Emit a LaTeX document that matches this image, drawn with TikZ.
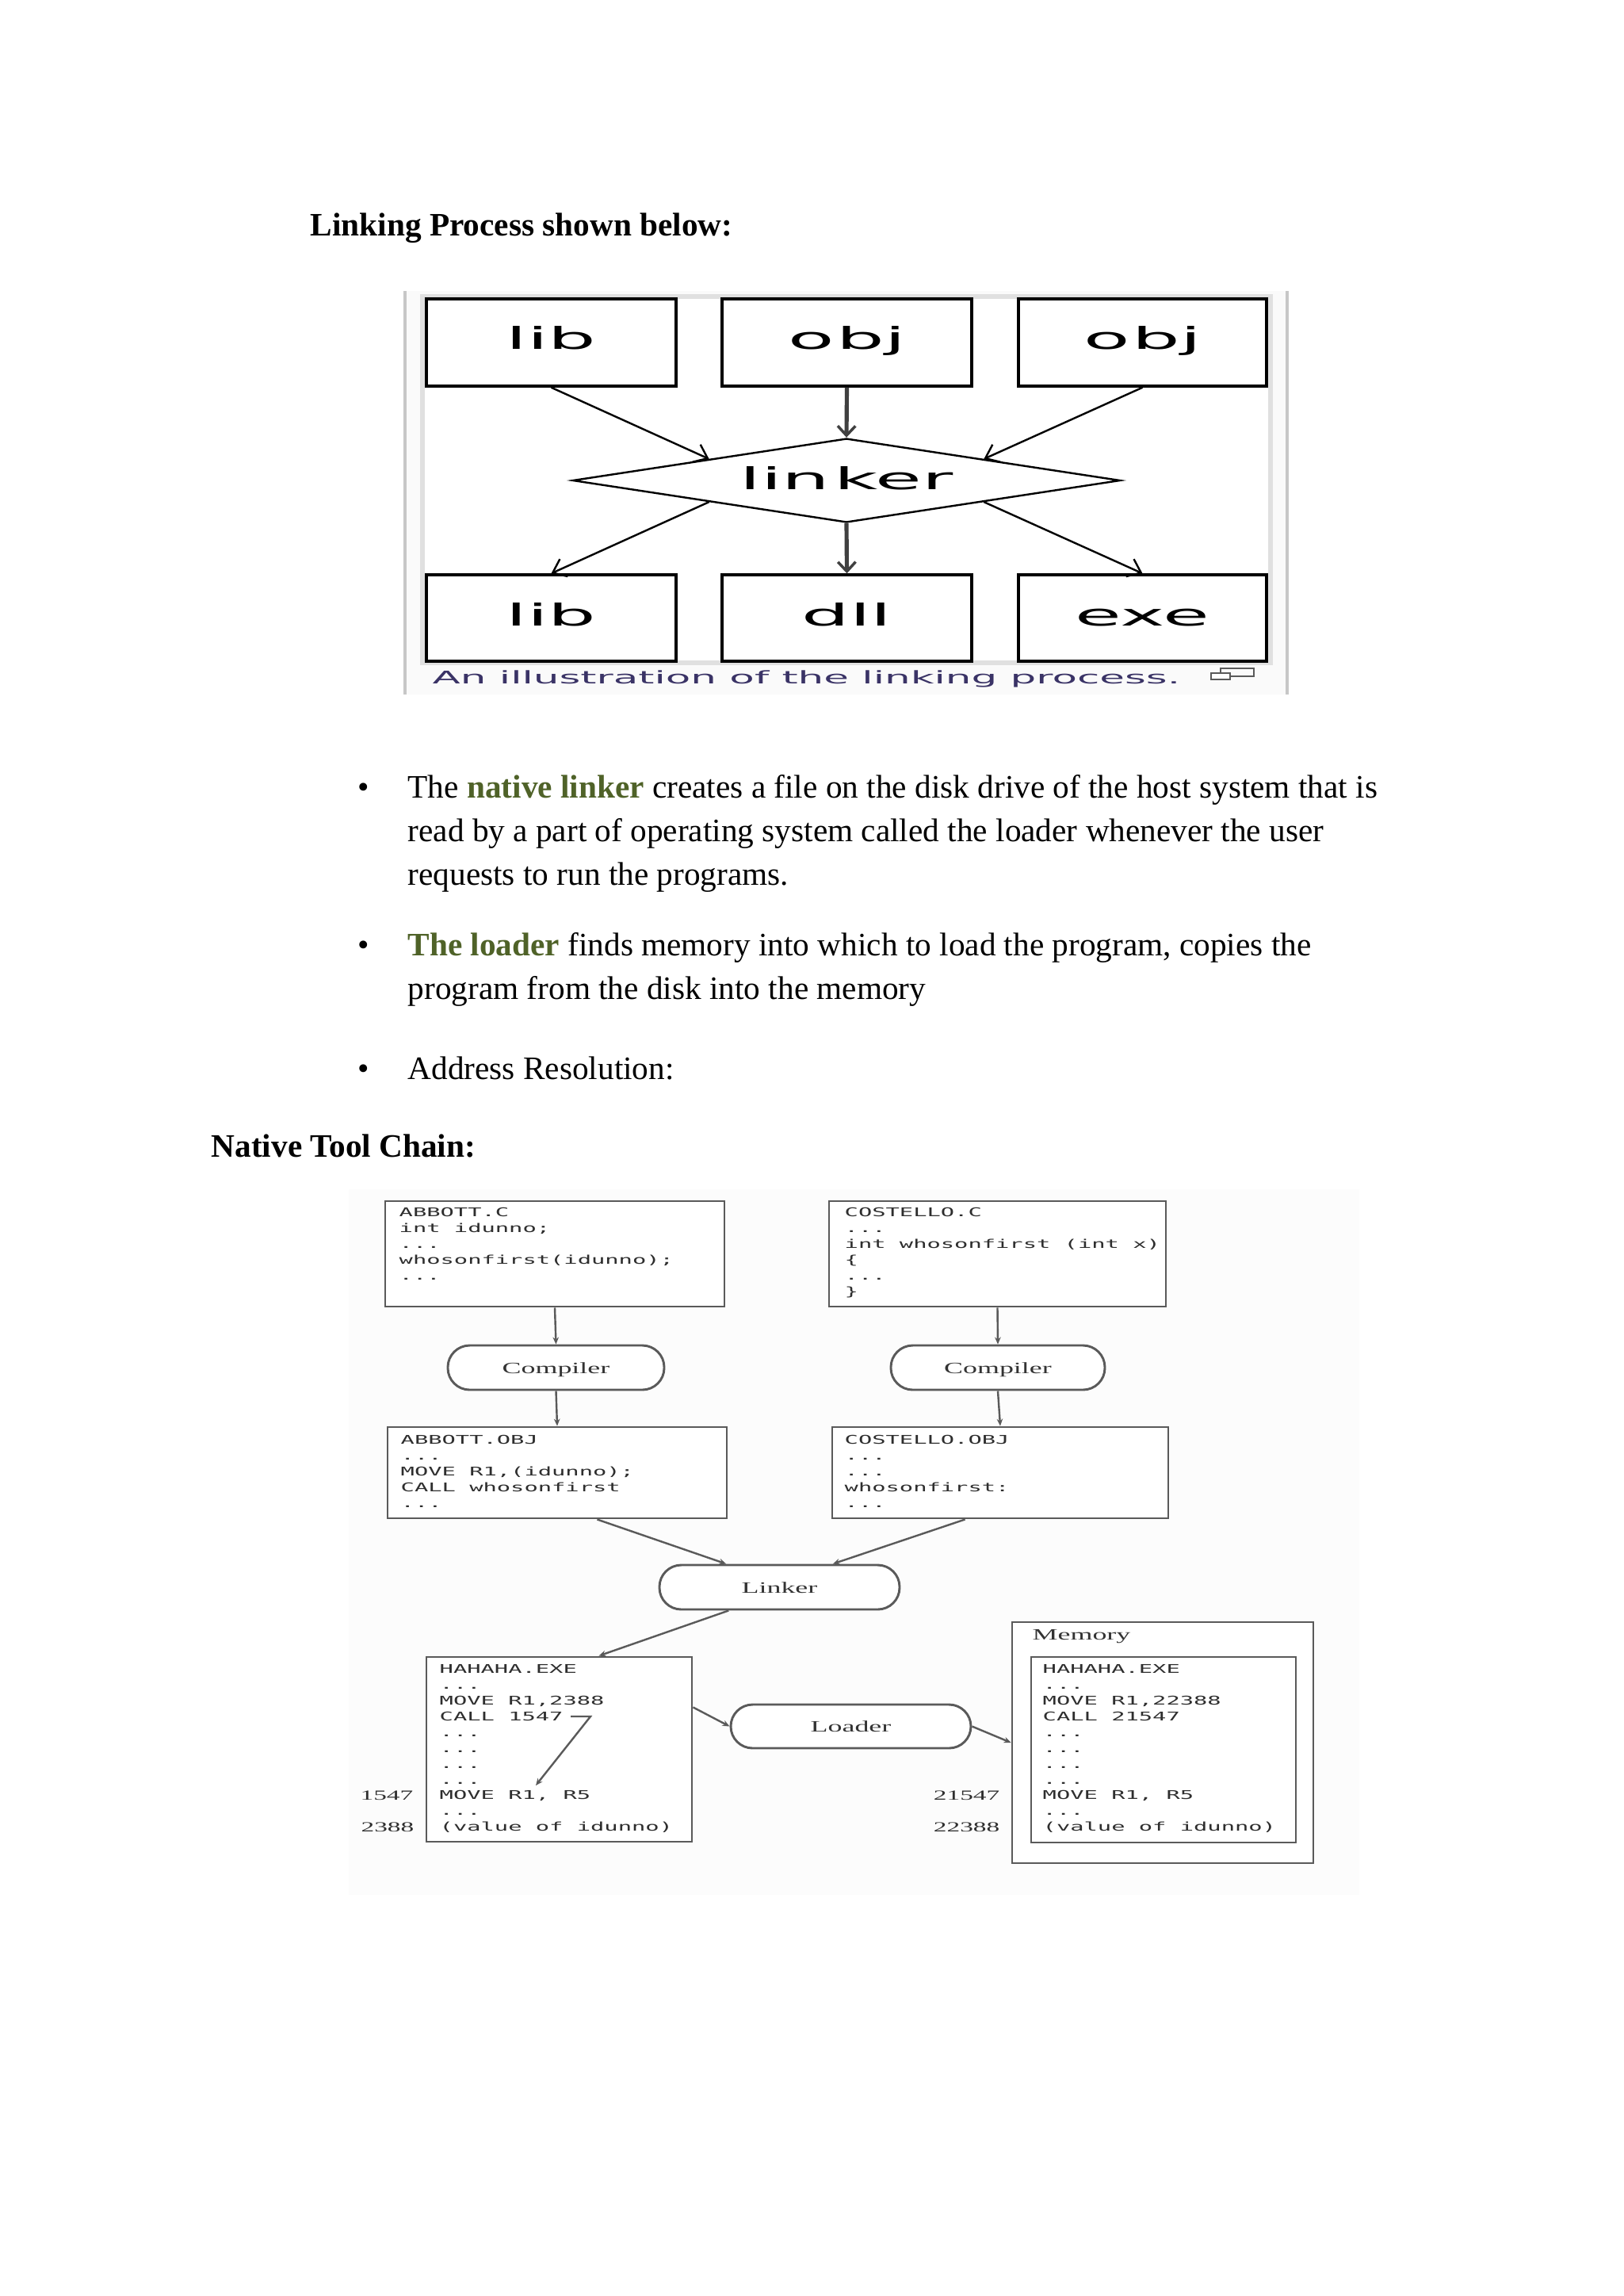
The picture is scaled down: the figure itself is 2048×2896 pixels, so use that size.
\documentclass[tikz,border=0pt]{standalone}
\usepackage{fontspec}
\setmainfont{Liberation Serif}
\newfontfamily\topfont[FakeStretch=2.5]{DejaVu Sans}
\newfontfamily\capfont[FakeStretch=2.34]{DejaVu Sans}
\newfontfamily\codefont[FakeStretch=1.9]{DejaVu Sans Mono}
\newfontfamily\labfont[FakeStretch=1.8]{Liberation Serif}
\newfontfamily\numfont[FakeStretch=1.9]{Liberation Serif}
\usetikzlibrary{arrows.meta,shapes.geometric,fit,calc}
\definecolor{olivetxt}{HTML}{4F6228}
\definecolor{capcol}{HTML}{3A3366}
\definecolor{figline}{HTML}{5A5A5A}
\definecolor{figtext}{HTML}{2E2E2E}
\newcommand{\tdots}{.{}.{}.}
\begin{document}
\begin{tikzpicture}[x=0.29065pt, y=-0.29065pt,
  body/.style={anchor=base west, inner sep=0, font=\fontsize{12pt}{14pt}\selectfont},
  head/.style={anchor=base west, inner sep=0, font=\fontsize{12pt}{14pt}\selectfont\bfseries},
  bul/.style={anchor=base, inner sep=0, font=\fontsize{12pt}{14pt}\selectfont},
  tbox/.style={draw=black, line width=1pt, fill=white, inner sep=0},
  tlab/.style={anchor=base, inner sep=0, font=\topfont\fontsize{11.1pt}{13pt}\selectfont},
  tarrow/.style={draw=black, line width=0.7pt, -{Straight Barb[length=4.5pt,width=7pt]}},
  tthick/.style={draw=black!75, line width=1.5pt, -{Straight Barb[length=3.5pt,width=6.5pt,line width=1pt]}},
  bbox/.style={draw=figline, line width=0.85pt, fill=white, inner sep=0},
  stad/.style={bbox, rounded corners=8pt},
  code/.style={anchor=base west, inner sep=0, text=figtext, font=\codefont\fontsize{4.4pt}{5.8pt}\selectfont},
  lab/.style={inner sep=0, text=black!80, font=\labfont\fontsize{5.8pt}{7pt}\selectfont},
  num/.style={anchor=base east, inner sep=0, text=figtext, font=\numfont\fontsize{5.1pt}{6pt}\selectfont},
  barrow/.style={draw=figline, line width=0.7pt, -{Stealth[length=2.6pt,width=2.2pt]}}
]
\useasboundingbox (0,0) rectangle (2048,2896);
\fill[white] (0,0) rectangle (2048,2896);

% ---------- heading ----------
\node[head] (title) at (391,297) {Linking Process shown below:};

% ---------- top figure frame ----------
\fill[black!2] (511,367) rectangle (1624,876);
\draw[black!22, line width=0.9pt] (511,367) -- (511,876) (1624,367) -- (1624,876);
\draw[black!12, line width=2pt, fill=white] (533,374) rectangle (1603,836);

% boxes
\node[tbox, fit={(538,377) (853,487)}] (lib1) {};
\node[tbox, fit={(911,377) (1226,487)}] (obj1) {};
\node[tbox, fit={(1285,377) (1598,487)}] (obj2) {};
\node[tbox, fit={(538,725) (853,834)}] (lib2) {};
\node[tbox, fit={(911,725) (1226,834)}] (dll) {};
\node[tbox, fit={(1285,725) (1598,834)}] (exe) {};
\node[diamond, draw=black, line width=0.7pt, fill=white, inner sep=0,
      minimum width=691*0.29065pt, minimum height=106*0.29065pt] (linker) at (1068,606) {};

\node[tlab] (lib1t) at (695.5,440) {lib};
\node[tlab] (obj1t) at (1068.5,440) {o\hspace{1pt}bj};
\node[tlab] (obj2t) at (1441.5,440) {o\hspace{1pt}bj};
\node[tlab] (lib2t) at (695.5,789) {lib};
\node[tlab] (dllt) at (1068.5,789) {dll};
\node[tlab] (exet) at (1441.5,789) {exe};
\node[tlab] (linkert) at (1068,617) {lin\hspace{1.5pt}ker};

\draw[tarrow] (lib1.south) -- ($(linker.west)!0.5!(linker.north)$);
\draw[tthick] (obj1.south) -- (linker.north);
\draw[tarrow] (obj2.south) -- ($(linker.east)!0.5!(linker.north)$);
\draw[tarrow] ($(linker.west)!0.5!(linker.south)$) -- (lib2.north);
\draw[tthick] (linker.south) -- (dll.north);
\draw[tarrow] ($(linker.east)!0.5!(linker.south)$) -- (exe.north);

\node[anchor=base west, inner sep=0, text=capcol, font=\capfont\fontsize{6.4pt}{8pt}\selectfont] (cap) at (545,862) {An illustration of the linking process.};
\node[draw=black!65, line width=0.45pt, inner sep=0, fit={(1540,843) (1582,853)}] (icbig) {};
\node[draw=black!65, fill=white, line width=0.45pt, inner sep=0, fit={(1528,849) (1552,857)}] (icsmall) {};

% ---------- bullets ----------
\node[bul] (b1) at (459,1006) {\textbullet};
\node[body] (l1) at (514,1006) {The \textcolor{olivetxt}{\textbf{native linker}} creates a file on the disk drive of the host system that is};
\node[body] (l2) at (514,1061) {read by a part of operating system called the loader whenever the user};
\node[body] (l3) at (514,1116) {requests to run the programs.};
\node[bul] (b2) at (459,1205) {\textbullet};
\node[body] (l4) at (514,1205) {\textcolor{olivetxt}{\textbf{The loader}} finds memory into which to load the program, copies the};
\node[body] (l5) at (514,1260) {program from the disk into the memory};
\node[bul] (b3) at (459,1361) {\textbullet};
\node[body] (l6) at (514,1361) {Address Resolution:};

\node[head] (chain) at (266,1459) {Native Tool Chain:};

% ---------- bottom figure ----------
\fill[black!1] (440,1500) rectangle (1715,2390);

\node[bbox, fit={(486,1515) (914,1648)}] (abc) {};
\node[bbox, fit={(1046,1515) (1471,1648)}] (cc) {};
\node[stad, fit={(565,1697) (838,1753)}] (comp1) {};
\node[stad, fit={(1124,1697) (1394,1753)}] (comp2) {};
\node[bbox, fit={(489,1800) (917,1915)}] (abo) {};
\node[bbox, fit={(1050,1800) (1474,1915)}] (co) {};
\node[stad, fit={(832,1974) (1135,2030)}] (lnk) {};
\node[bbox, fit={(538,2090) (873,2323)}] (hexe) {};
\node[stad, fit={(922,2150) (1225,2205)}] (loader) {};
\node[bbox, fit={(1277,2046) (1657,2350)}] (mem) {};
\node[bbox, fit={(1301,2090) (1635,2324)}] (memexe) {};

\node[lab, anchor=base] (comp1t) at (701.5,1732) {Compiler};
\node[lab, anchor=base] (comp2t) at (1259,1732) {Compiler};
\node[lab, anchor=base] (lnkt) at (983.5,2009) {Linker};
\node[lab, anchor=base] (loadert) at (1073.5,2184) {Loader};
\node[lab, anchor=base west] (memlab) at (1302,2068) {Memory};

% ABBOTT.C
\node[code] (abcl0) at (503,1534) {ABBOTT.C};
\node[code] (abcl1) at (503,1554) {int idunno;};
\node[code] (abcl2) at (503,1574) {\tdots};
\node[code] (abcl3) at (503,1594) {whosonfirst(idunno);};
\node[code] (abcl4) at (503,1614) {\tdots};
% COSTELLO.C
\node[code] (ccl0) at (1065,1534) {COSTELLO.C};
\node[code] (ccl1) at (1065,1554) {\tdots};
\node[code] (ccl2) at (1065,1574) {int whosonfirst (int x)};
\node[code] (ccl3) at (1065,1594) {\{};
\node[code] (ccl4) at (1065,1614) {\tdots};
\node[code] (ccl5) at (1065,1634) {\}};
% ABBOTT.OBJ
\node[code] (abol0) at (505,1821) {ABBOTT.OBJ};
\node[code] (abol1) at (505,1841) {\tdots};
\node[code] (abol2) at (505,1861) {MOVE R1,(idunno);};
\node[code] (abol3) at (505,1881) {CALL whosonfirst};
\node[code] (abol4) at (505,1901) {\tdots};
% COSTELLO.OBJ
\node[code] (col0) at (1065,1821) {COSTELLO.OBJ};
\node[code] (col1) at (1065,1841) {\tdots};
\node[code] (col2) at (1065,1861) {\tdots};
\node[code] (col3) at (1065,1881) {whosonfirst:};
\node[code] (col4) at (1065,1901) {\tdots};
% HAHAHA.EXE (disk)
\node[code] (hl0) at (554,2110) {HAHAHA.EXE};
\node[code] (hl1) at (554,2130) {\tdots};
\node[code] (hl2) at (554,2150) {MOVE R1,2388};
\node[code] (hl3) at (554,2170) {CALL 1547};
\node[code] (hl4) at (554,2190) {\tdots};
\node[code] (hl5) at (554,2210) {\tdots};
\node[code] (hl6) at (554,2230) {\tdots};
\node[code] (hl7) at (554,2250) {\tdots};
\node[code] (hl8) at (554,2269) {MOVE R1, R5};
\node[code] (hl9) at (554,2289) {\tdots};
\node[code] (hl10) at (554,2309) {(value of idunno)};
% HAHAHA.EXE (memory)
\node[code] (ml0) at (1315,2110) {HAHAHA.EXE};
\node[code] (ml1) at (1315,2130) {\tdots};
\node[code] (ml2) at (1315,2150) {MOVE R1,22388};
\node[code] (ml3) at (1315,2170) {CALL 21547};
\node[code] (ml4) at (1315,2190) {\tdots};
\node[code] (ml5) at (1315,2210) {\tdots};
\node[code] (ml6) at (1315,2230) {\tdots};
\node[code] (ml7) at (1315,2250) {\tdots};
\node[code] (ml8) at (1315,2269) {MOVE R1, R5};
\node[code] (ml9) at (1315,2289) {\tdots};
\node[code] (ml10) at (1315,2309) {(value of idunno)};

\node[num] (n1547) at (522,2270) {1547};
\node[num] (n2388) at (523,2310) {2388};
\node[num] (n21547) at (1262,2270) {21547};
\node[num] (n22388) at (1262,2310) {22388};

\draw[barrow] (abc.south) -- (comp1.north);
\draw[barrow] (comp1.south) -- (abo.north);
\draw[barrow] (cc.south) -- (comp2.north);
\draw[barrow] (comp2.south) -- (co.north);
\draw[barrow] ($(abo.south west)!0.617!(abo.south east)$) -- ($(lnk.north west)!0.28!(lnk.north east)$);
\draw[barrow] ($(co.south west)!0.396!(co.south east)$) -- ($(lnk.north west)!0.72!(lnk.north east)$);
\draw[barrow] ($(lnk.south west)!0.29!(lnk.south east)$) -- ($(hexe.north west)!0.648!(hexe.north east)$);
\draw[barrow] ($(hexe.north east)!0.275!(hexe.south east)$) -- (loader.west);
\draw[barrow] (loader.east) -- (mem.west);
\coordinate (ca1) at (720,2165);
\coordinate (ca2) at (745,2165);
\coordinate (ca3) at (676,2252);
\draw[barrow] (ca1) -- (ca2) -- (ca3);
\end{tikzpicture}
\end{document}
